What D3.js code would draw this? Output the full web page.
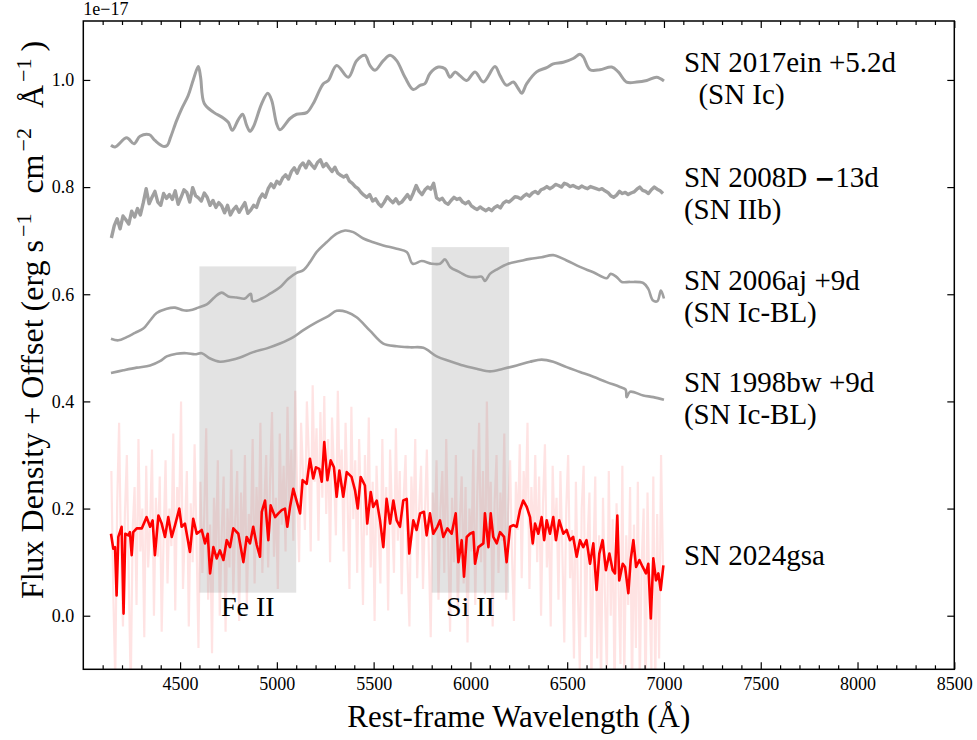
<!DOCTYPE html>
<html>
<head>
<meta charset="utf-8">
<script src="https://cdn.jsdelivr.net/npm/d3@7/dist/d3.min.js"></script>
<style>
  body { margin: 0; background: #fff; }
  text { font-family: "Liberation Serif", "Times New Roman", serif; fill: #000; }
</style>
</head>
<body>
<svg id="chart" width="977" height="740"></svg>
<script>
// ---- data (flux in units of 1e-17, offsets already applied) ----
var wave2017ein = [4143,4164,4224,4262,4293,4341,4370,4413,4434,4451,4482,4508,4542,4568,4594,4606,4625,4672,4723,4749,4770,4801,4823,4844,4861,4878,4922,4953,4973,4999,5016,5068,5102,5154,5188,5240,5266,5309,5369,5412,5455,5481,5507,5550,5585,5619,5662,5705,5740,5765,5791,5834,5869,5895,5921,5946,5981,6024,6067,6127,6153,6187,6222,6247,6265,6291,6342,6394,6428,6480,6531,6566,6583,6618,6669,6730,6764,6807,6859,6911,6962,7000];
var flux2017ein = [0.878,0.875,0.892,0.881,0.895,0.898,0.887,0.876,0.878,0.893,0.924,0.946,0.971,1.0,1.025,1.005,0.956,0.94,0.929,0.921,0.906,0.926,0.936,0.915,0.904,0.912,0.956,0.975,0.962,0.918,0.907,0.928,0.936,0.939,0.956,0.993,0.999,1.027,1.005,1.036,1.046,1.027,1.018,1.036,1.046,1.036,1.005,0.982,0.99,0.993,1.012,1.024,1.021,1.005,1.015,1.008,0.999,1.015,0.996,1.025,1.008,0.99,0.996,0.984,0.975,0.993,1.015,1.023,1.03,1.033,1.04,1.048,1.043,1.019,1.019,1.024,1.015,0.996,0.996,0.999,1.005,0.998];

// SN 2008D on a 15 A grid
var wave2008D = d3.range(4145, 7000, 15);
var flux2008D = [
  0.705,0.728,0.741,0.722,0.746,0.739,0.731,0.755,0.744,0.76,
  0.748,0.771,0.797,0.769,0.781,0.792,0.772,0.766,0.788,0.779,
  0.786,0.777,0.793,0.768,0.781,0.795,0.79,0.772,0.799,0.784,
  0.78,0.774,0.789,0.781,0.766,0.775,0.762,0.771,0.765,0.752,
  0.766,0.748,0.758,0.764,0.753,0.762,0.771,0.751,0.757,0.766,
  0.762,0.778,0.787,0.781,0.797,0.806,0.799,0.811,0.806,0.817,
  0.823,0.815,0.829,0.836,0.826,0.839,0.845,0.836,0.848,0.841,
  0.835,0.846,0.851,0.838,0.844,0.836,0.829,0.837,0.826,0.822,
  0.819,0.822,0.811,0.807,0.801,0.797,0.79,0.785,0.781,0.786,
  0.774,0.778,0.769,0.764,0.772,0.782,0.776,0.771,0.778,0.769,
  0.772,0.779,0.786,0.777,0.789,0.803,0.792,0.786,0.795,0.8,
  0.796,0.807,0.78,0.776,0.779,0.771,0.768,0.775,0.781,0.777,
  0.779,0.772,0.769,0.773,0.765,0.761,0.758,0.763,0.759,0.756,
  0.76,0.756,0.762,0.765,0.761,0.77,0.774,0.772,0.777,0.782,
  0.781,0.778,0.783,0.787,0.783,0.789,0.792,0.788,0.795,0.797,
  0.801,0.797,0.8,0.805,0.803,0.8,0.807,0.805,0.801,0.803,
  0.8,0.798,0.802,0.799,0.797,0.801,0.799,0.797,0.795,0.797,
  0.793,0.79,0.784,0.781,0.785,0.792,0.788,0.79,0.786,0.789,
  0.791,0.796,0.8,0.794,0.792,0.788,0.795,0.8,0.796,0.793,
  0.788];

var wave2006aj = [4143,4181,4224,4267,4310,4345,4379,4431,4474,4517,4551,4594,4638,4680,4715,4749,4792,4835,4865,4875,4922,4965,5016,5059,5102,5137,5171,5206,5257,5309,5352,5395,5447,5498,5550,5619,5671,5702,5748,5800,5843,5869,5895,5946,5989,6032,6058,6075,6101,6135,6195,6256,6308,6368,6428,6497,6566,6635,6704,6725,6756,6782,6825,6893,6919,6942,6966,6984,7000];
var flux2006aj = [0.517,0.514,0.52,0.528,0.536,0.551,0.565,0.573,0.575,0.57,0.57,0.575,0.581,0.595,0.603,0.596,0.594,0.592,0.601,0.587,0.592,0.601,0.613,0.629,0.64,0.645,0.66,0.679,0.697,0.713,0.719,0.716,0.704,0.697,0.691,0.685,0.679,0.657,0.662,0.657,0.657,0.665,0.651,0.641,0.633,0.632,0.633,0.625,0.638,0.646,0.657,0.662,0.666,0.669,0.673,0.663,0.651,0.641,0.63,0.638,0.632,0.623,0.623,0.621,0.61,0.589,0.587,0.607,0.592];

var wave1998bw = [4143,4207,4276,4345,4396,4431,4482,4534,4577,4612,4655,4706,4758,4810,4878,4948,5016,5085,5137,5206,5266,5309,5361,5412,5481,5550,5619,5688,5757,5826,5895,5963,6032,6101,6170,6239,6308,6368,6428,6497,6566,6635,6704,6773,6802,6807,6825,6893,6945,7000];
var flux1998bw = [0.453,0.458,0.463,0.467,0.475,0.484,0.489,0.49,0.488,0.49,0.48,0.474,0.477,0.482,0.492,0.499,0.508,0.52,0.533,0.548,0.559,0.569,0.567,0.557,0.532,0.508,0.503,0.501,0.5,0.484,0.475,0.467,0.461,0.456,0.461,0.467,0.474,0.478,0.474,0.464,0.455,0.446,0.436,0.427,0.422,0.408,0.418,0.411,0.408,0.403];

// SN 2024gsa, unbinned (faint), 10 A grid
var waveRaw = d3.range(4145, 7000, 10);
var flux2024raw = [
  0.27,0.04,-0.12,0.21,0.36,0.1,-0.02,0.19,0.3,0.07,
  -0.14,0.16,0.24,0.02,0.33,0.12,0.2,-0.04,0.28,0.09,
  0.17,0.31,0.0,0.22,0.11,0.26,-0.03,0.15,0.29,0.06,
  0.2,0.13,0.34,0.01,0.24,0.18,0.4,0.05,0.16,0.27,
  -0.02,0.21,0.1,0.32,0.14,-0.06,0.25,0.08,0.19,0.35,
  0.03,0.17,-0.07,0.22,0.12,0.29,0.0,0.15,0.26,-0.03,
  0.2,0.09,0.31,0.04,0.18,0.27,-0.01,0.23,0.11,0.3,
  0.02,0.19,0.14,0.33,0.06,0.24,0.12,0.36,0.08,0.21,
  0.3,0.09,0.25,0.38,0.11,0.22,0.05,0.34,0.17,0.28,
  0.12,0.39,0.2,0.31,0.14,0.42,0.23,0.1,0.36,0.27,
  0.16,0.4,0.3,0.12,0.43,0.25,0.35,0.14,0.38,0.22,
  0.41,0.19,0.33,0.1,0.37,0.27,0.15,0.42,0.24,0.31,
  0.12,0.36,0.22,0.05,0.39,0.18,0.29,0.08,0.33,0.2,
  0.02,0.3,0.15,0.37,0.09,0.25,-0.01,0.28,0.17,0.06,
  0.33,0.13,0.24,0.01,0.31,0.19,0.08,0.35,0.14,0.27,
  0.04,0.22,0.3,0.1,-0.02,0.26,0.16,0.33,0.07,0.2,
  0.28,0.05,0.19,0.31,0.12,-0.04,0.23,0.15,0.29,0.03,
  0.2,0.27,0.08,0.33,0.14,-0.03,0.22,0.1,0.3,0.0,
  0.18,0.26,0.06,0.24,-0.05,0.2,0.12,0.31,0.02,0.22,
  0.36,0.1,0.27,0.04,0.4,0.17,0.25,-0.02,0.21,0.3,
  0.08,0.23,0.14,0.34,0.03,0.19,0.29,0.11,-0.01,0.25,
  0.16,0.32,0.07,0.27,0.2,0.36,0.05,0.24,0.13,0.3,
  0.1,0.26,0.0,0.21,0.32,0.09,0.18,-0.02,0.28,0.14,
  0.22,0.03,0.27,0.12,-0.05,0.2,0.3,0.07,0.16,-0.08,
  0.25,0.05,-0.1,0.2,0.28,-0.04,0.14,0.23,-0.13,0.1,
  0.26,-0.08,0.15,-0.14,0.22,0.04,-0.11,0.27,0.0,0.18,
  -0.16,0.21,0.06,-0.09,0.28,-0.12,0.15,0.02,0.24,-0.15,
  0.17,-0.06,0.25,-0.13,0.1,0.2,-0.17,0.23,0.03,-0.1,
  0.26,-0.14,0.19,-0.08,0.3,0.09];

// SN 2024gsa, binned (red)
var wave2024 = [4143,4155,4164,4172,4181,4198,4208,4217,4233,4241,4250,4258,4276,4302,4327,4345,4358,4370,4388,4405,4422,4439,4457,4474,4496,4508,4525,4551,4568,4586,4612,4629,4643,4655,4672,4689,4706,4724,4741,4758,4775,4801,4827,4844,4861,4878,4896,4913,4922,4939,4956,4968,4991,5008,5025,5042,5054,5068,5085,5099,5120,5133,5154,5171,5188,5202,5219,5232,5245,5261,5278,5295,5309,5323,5343,5361,5386,5404,5418,5433,5455,5467,5485,5498,5516,5533,5550,5567,5585,5602,5619,5636,5653,5671,5684,5705,5722,5740,5760,5774,5791,5808,5829,5843,5860,5881,5903,5924,5938,5955,5967,5981,5998,6015,6024,6041,6067,6075,6093,6105,6118,6136,6153,6174,6187,6205,6222,6239,6256,6273,6291,6308,6322,6334,6351,6368,6381,6394,6411,6428,6442,6459,6480,6497,6514,6531,6549,6566,6583,6600,6618,6635,6652,6666,6683,6700,6718,6735,6747,6759,6769,6787,6799,6816,6828,6842,6856,6873,6890,6907,6919,6932,6945,6959,6971,6983,6997];
var flux2024 = [0.153,0.125,0.128,0.038,0.147,0.166,0.004,0.153,0.15,0.156,0.113,0.156,0.163,0.163,0.184,0.166,0.178,0.113,0.187,0.172,0.147,0.184,0.147,0.169,0.2,0.166,0.172,0.119,0.181,0.153,0.16,0.135,0.153,0.079,0.128,0.107,0.122,0.104,0.141,0.128,0.163,0.153,0.1,0.147,0.135,0.166,0.132,0.11,0.194,0.215,0.141,0.206,0.184,0.191,0.197,0.2,0.166,0.203,0.237,0.218,0.191,0.253,0.246,0.293,0.256,0.277,0.274,0.25,0.324,0.253,0.29,0.277,0.222,0.271,0.222,0.268,0.259,0.234,0.2,0.259,0.243,0.172,0.231,0.203,0.215,0.178,0.128,0.218,0.172,0.215,0.178,0.166,0.215,0.218,0.116,0.178,0.16,0.191,0.194,0.15,0.191,0.153,0.166,0.178,0.147,0.163,0.153,0.191,0.1,0.141,0.073,0.147,0.153,0.156,0.097,0.128,0.135,0.191,0.128,0.191,0.147,0.135,0.156,0.147,0.1,0.166,0.169,0.166,0.197,0.215,0.203,0.184,0.135,0.172,0.153,0.184,0.141,0.178,0.153,0.184,0.141,0.178,0.153,0.16,0.141,0.147,0.11,0.141,0.128,0.141,0.097,0.135,0.048,0.116,0.141,0.085,0.116,0.085,0.079,0.187,0.066,0.097,0.091,0.042,0.104,0.141,0.091,0.104,0.091,0.079,0.097,-0.005,0.107,0.066,0.079,0.048,0.094];

// shaded line regions
var bandNames = ["Fe II", "Si II"];
var bandLo = [4600, 5800];
var bandHi = [5100, 6200];
var bandTop = [0.652, 0.688];
var bandBottom = [0.043, 0.043];

// right-hand labels (anchor flux of each block)
var labelLines = [["SN 2017ein +5.2d", "\u2002(SN Ic)"], ["SN 2008D |\u2212|13d", "(SN IIb)"], ["SN 2006aj +9d", "(SN Ic-BL)"], ["SN 1998bw +9d", "(SN Ic-BL)"], ["SN 2024gsa"]];
var labelFlux = [1.002, 0.788, 0.595, 0.405, 0.113];

var xMajor = [4500, 5000, 5500, 6000, 6500, 7000, 7500, 8000, 8500];
var yMajor = [0.0, 0.2, 0.4, 0.6, 0.8, 1.0];

// ---- chart ----
var svg = d3.select("#chart");
var x = d3.scaleLinear().domain([4000, 8500]).range([83.3, 954.3]);
var y = d3.scaleLinear().domain([-0.1, 1.11]).range([669.3, 21]);
var xMinor = d3.range(4100, 8500, 100).filter(function(v) { return v % 500 !== 0; });

svg.append("clipPath").attr("id", "plotclip")
  .append("rect")
  .attr("x", x.range()[0]).attr("y", y.range()[1])
  .attr("width", x.range()[1] - x.range()[0])
  .attr("height", y.range()[0] - y.range()[1]);

var plot = svg.append("g").attr("clip-path", "url(#plotclip)");
var line = d3.line().x(function(d) { return x(d[0]); }).y(function(d) { return y(d[1]); });
var smooth = d3.line().curve(d3.curveCatmullRom.alpha(0.5))
  .x(function(d) { return x(d[0]); }).y(function(d) { return y(d[1]); });

// faint unbinned spectrum
plot.append("path")
  .datum(d3.zip(waveRaw, flux2024raw))
  .attr("d", line)
  .attr("fill", "none")
  .attr("stroke", "#ff0000")
  .attr("stroke-opacity", 0.11)
  .attr("stroke-width", 2.2);

// shaded bands
plot.selectAll(".band")
  .data(bandNames)
  .enter().append("rect")
  .attr("class", "band")
  .attr("x", function(d, i) { return x(bandLo[i]); })
  .attr("width", function(d, i) { return x(bandHi[i]) - x(bandLo[i]); })
  .attr("y", function(d, i) { return y(bandTop[i]); })
  .attr("height", function(d, i) { return y(bandBottom[i]) - y(bandTop[i]); })
  .attr("fill", "#808080")
  .attr("fill-opacity", 0.22);

// comparison spectra
var greySpectra = [
  [wave2017ein, flux2017ein, 3, smooth],
  [wave2008D, flux2008D, 3.4, line],
  [wave2006aj, flux2006aj, 2.6, smooth],
  [wave1998bw, flux1998bw, 2.6, smooth]
];
greySpectra.forEach(function(s) {
  plot.append("path")
    .datum(d3.zip(s[0], s[1]))
    .attr("d", s[3])
    .attr("fill", "none")
    .attr("stroke", "#a0a0a0")
    .attr("stroke-width", s[2])
    .attr("stroke-linejoin", "round");
});

// binned SN 2024gsa
plot.append("path")
  .datum(d3.zip(wave2024, flux2024))
  .attr("d", line)
  .attr("fill", "none")
  .attr("stroke", "#ff0000")
  .attr("stroke-width", 2.6)
  .attr("stroke-linejoin", "round");

// band labels
svg.selectAll(".bandlabel")
  .data(bandNames)
  .enter().append("text")
  .attr("class", "bandlabel")
  .attr("x", function(d, i) { return x((bandLo[i] + bandHi[i]) / 2); })
  .attr("y", y(0))
  .attr("text-anchor", "middle")
  .style("font-size", "28px")
  .text(function(d) { return d; });

// spectrum labels (a "|...|" part is the heavy minus sign)
labelLines.forEach(function(lines, i) {
  var cy = y(labelFlux[i]);
  var n = lines.length;
  var t = svg.append("text")
    .attr("x", x(7103))
    .attr("y", cy - (n - 1) * 16 + 9.5)
    .style("font-size", "29px");
  lines.forEach(function(l, j) {
    var parts = l.split("|");
    parts.forEach(function(p, k) {
      var ts = t.append("tspan").text(p);
      if (k === 0) ts.attr("x", x(7103)).attr("dy", j === 0 ? 0 : 32);
      if (k === 1) ts.style("font-family", "'DejaVu Sans', sans-serif").style("font-weight", "bold").style("font-size", "25px");
    });
  });
});

// axes: ticks inside, frame around
svg.append("g").attr("transform", "translate(0," + y.range()[0] + ")")
  .call(d3.axisBottom(x).tickValues(xMajor).tickSize(-7).tickPadding(8).tickFormat(d3.format("d")));
svg.append("g").attr("transform", "translate(0," + y.range()[0] + ")")
  .call(d3.axisBottom(x).tickValues(xMinor).tickSize(-4).tickFormat(""));
svg.append("g").attr("transform", "translate(0," + y.range()[1] + ")")
  .call(d3.axisTop(x).tickValues(xMajor).tickSize(-7).tickFormat(""));
svg.append("g").attr("transform", "translate(0," + y.range()[1] + ")")
  .call(d3.axisTop(x).tickValues(xMinor).tickSize(-4).tickFormat(""));
var gy = svg.append("g").attr("transform", "translate(" + x.range()[0] + ",0)")
  .call(d3.axisLeft(y).tickValues(yMajor).tickSize(-7).tickPadding(9).tickFormat(d3.format(".1f")));
svg.append("g").attr("transform", "translate(" + x.range()[1] + ",0)")
  .call(d3.axisRight(y).tickValues(yMajor).tickSize(-7).tickFormat(""));

svg.selectAll(".domain").remove();
svg.selectAll(".tick line").attr("stroke", "#000").attr("stroke-width", 1.2);
svg.selectAll(".tick text").style("font-family", "'Liberation Serif', serif").style("font-size", "18px").attr("fill", "#000");
gy.selectAll(".tick text").attr("dy", "0.32em");

svg.append("rect")
  .attr("x", x.range()[0]).attr("y", y.range()[1])
  .attr("width", x.range()[1] - x.range()[0])
  .attr("height", y.range()[0] - y.range()[1])
  .attr("fill", "none").attr("stroke", "#000").attr("stroke-width", 1.5);

// offset text
svg.append("text").attr("x", x.range()[0]).attr("y", 15)
  .style("font-size", "18px").text("1e\u221217");

// axis labels
svg.append("text")
  .attr("x", (x.range()[0] + x.range()[1]) / 2).attr("y", 727)
  .attr("text-anchor", "middle")
  .style("font-size", "31px")
  .text("Rest-frame Wavelength (\u00c5)");

var yl = svg.append("text")
  .attr("transform", "translate(43,320) rotate(-90)")
  .attr("text-anchor", "middle")
  .style("font-size", "32px");
yl.append("tspan").text("Flux Density + Offset (erg s");
yl.append("tspan").attr("dy", -12).attr("dx", 3).style("font-size", "22px").text("\u22121");
yl.append("tspan").attr("dy", 12).attr("dx", 12).text(" cm");
yl.append("tspan").attr("dy", -12).attr("dx", 3).style("font-size", "22px").text("\u22122");
yl.append("tspan").attr("dy", 12).attr("dx", 12).text(" \u00c5");
yl.append("tspan").attr("dy", -12).attr("dx", 3).style("font-size", "22px").text("\u22121");
yl.append("tspan").attr("dy", 12).attr("dx", 7).text(")");
</script>
</body>
</html>
